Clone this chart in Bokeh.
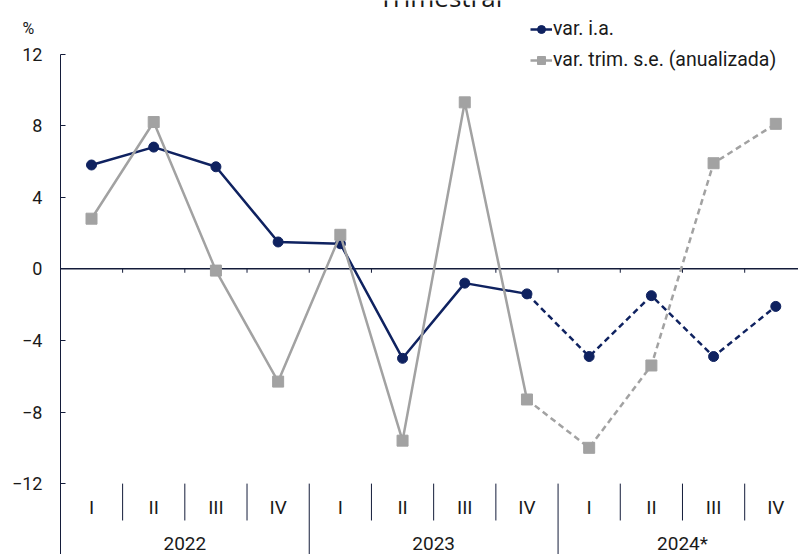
from bokeh.plotting import figure
from bokeh.models import Range1d, FixedTicker, Label, Legend, LegendItem
from bokeh.core.properties import value
from bokeh.embed import file_html
from bokeh.resources import INLINE

# ---------------- data ----------------
years = ["2022", "2023", "2024*"]
quarters = ["I", "II", "III", "IV"]
var_ia = [5.8, 6.8, 5.7, 1.5, 1.4, -5.0, -0.8, -1.4, -4.9, -1.5, -4.9, -2.1]
var_trim = [2.8, 8.2, -0.1, -6.3, 1.9, -9.6, 9.3, -7.3, -10.0, -5.4, 5.9, 8.1]
n_observed = 8          # quarters with observed data; the rest are drawn dashed
y_ticks = [-12, -8, -4, 0, 4, 8, 12]
title_text = "Trimestral"
unit_text = "%"

NAVY = "#0f2260"
GRAY = "#a2a2a2"
AXIS = "#141c3a"
TXT = "#1a1a1a"
FONT = "Roboto"

n = len(var_ia)
xs = list(range(n))
labels_q = [quarters[i % 4] for i in xs]
y_min, y_max = y_ticks[0], y_ticks[-1]

p = figure(width=798, height=554, output_backend="svg", toolbar_location=None,
           x_range=Range1d(-1.463, 11.365), y_range=Range1d(-15.96, 14.99),
           x_axis_location=None, min_border=0,
           min_border_left=0, min_border_right=0, min_border_top=0, min_border_bottom=0)
p.outline_line_color = None
p.xgrid.visible = False
p.ygrid.visible = False
p.background_fill_color = "white"
p.border_fill_color = "white"

# y axis, fixed at the left edge of the first category
ax = p.yaxis[0]
ax.fixed_location = -0.5
ax.bounds = (-16, y_max)
ax.ticker = FixedTicker(ticks=y_ticks, minor_ticks=[])
ax.axis_line_color = AXIS
ax.axis_line_width = 1
ax.major_tick_line_color = AXIS
ax.major_tick_in = 5
ax.major_tick_out = 0
ax.major_label_standoff = 18
ax.major_label_text_font = FONT
ax.major_label_text_font_size = "18px"
ax.major_label_text_color = TXT

# zero line with ticks at category boundaries
p.segment(x0=[-0.5], y0=[0], x1=[n - 0.5], y1=[0], line_color=AXIS, line_width=1.5)
bounds = [i + 0.5 for i in xs]
p.segment(x0=bounds, y0=[0] * n, x1=bounds, y1=[-0.22] * n, line_color=AXIS, line_width=1)

# category axis below (quarters + years)
q_bounds = [i + 0.5 for i in xs if (i + 1) % 4 != 0]
yr_bounds = [i + 0.5 for i in xs if (i + 1) % 4 == 0]
p.segment(x0=q_bounds, y0=[y_min] * len(q_bounds), x1=q_bounds, y1=[-14.06] * len(q_bounds),
          line_color=AXIS, line_width=1)
p.segment(x0=yr_bounds, y0=[y_min] * len(yr_bounds), x1=yr_bounds, y1=[-16.5] * len(yr_bounds),
          line_color=AXIS, line_width=1)
p.text(x=xs, y=[-13.36] * n, text=labels_q, text_align="center", text_baseline="middle",
       text_font=value(FONT), text_font_size="19px", text_color=TXT)
year_x = [4 * k + 1.5 for k in range(len(years))]
p.text(x=year_x, y=[-15.33] * len(years), text=years, text_align="center", text_baseline="middle",
       text_font=value(FONT), text_font_size="19px", text_color=TXT)

# series
k = n_observed
l1 = p.line(xs[:k], var_ia[:k], line_color=NAVY, line_width=2.5)
p.line(xs[k - 1:], var_ia[k - 1:], line_color=NAVY, line_width=2.5, line_dash="6 4")
s1 = p.scatter(xs, var_ia, marker="circle", size=10, fill_color=NAVY, line_color=NAVY)

l2 = p.line(xs[:k], var_trim[:k], line_color=GRAY, line_width=2.5)
p.line(xs[k - 1:], var_trim[k - 1:], line_color=GRAY, line_width=2.5, line_dash="6 4")
s2 = p.scatter(xs, var_trim, marker="square", size=11, fill_color=GRAY, line_color=GRAY)

legend = Legend(items=[LegendItem(label="var. i.a.", renderers=[l1, s1]),
                       LegendItem(label="var. trim. s.e. (anualizada)", renderers=[l2, s2])],
                location=(530, 483), orientation="vertical",
                glyph_width=22, glyph_height=20, label_height=20, label_standoff=1,
                spacing=8, padding=0, margin=0,
                border_line_color=None, background_fill_alpha=0,
                label_text_font=FONT, label_text_font_size="19.5px", label_text_color=TXT)
p.add_layout(legend, "center")

# unit label and (cut-off) title
p.add_layout(Label(x=-1.014, y=13.40, text=unit_text, text_align="center", text_baseline="middle",
                   text_font=FONT, text_font_size="16px", text_color=TXT))
p.add_layout(Label(x=5.61, y=15.16, text=title_text, text_align="center", text_baseline="alphabetic",
                   text_font="Open Sans", text_font_size="26px", text_color=TXT))

open("out.html", "w").write(file_html(p, INLINE))
